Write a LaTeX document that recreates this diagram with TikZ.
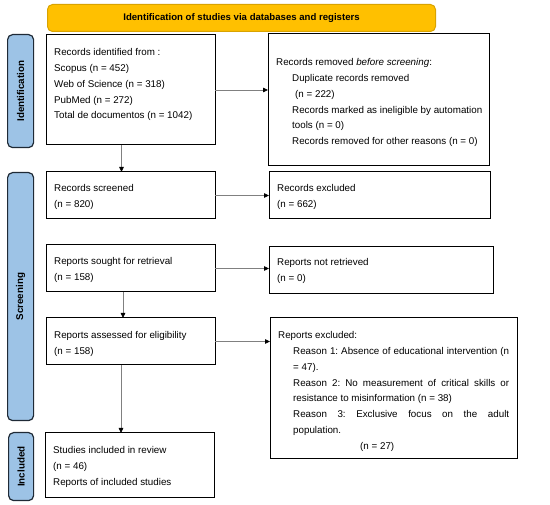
\documentclass[tikz,border=0pt]{standalone}
\usepackage{fontspec}
\setmainfont{Liberation Sans}
\usetikzlibrary{arrows.meta}
\definecolor{bannerfill}{HTML}{FFC000}
\definecolor{bannerdraw}{HTML}{D9A300}
\definecolor{sideblue}{HTML}{9DC3E6}
\definecolor{sidedraw}{HTML}{1F2A36}
\definecolor{arrgray}{HTML}{808080}
\frenchspacing
\begin{document}
\begin{tikzpicture}[x=1pt,y=-1pt,
  box/.style={draw=black,line width=1pt,rectangle,anchor=north west,inner sep=0pt,outer sep=0pt},
  txt/.style={anchor=north west,inner sep=0pt,align=left,font=\fontsize{9.8}{15.8}\selectfont},
  side/.style={draw=sidedraw,fill=sideblue,rounded corners=5pt,line width=1.2pt,anchor=north west,inner sep=0pt},
  sidetxt/.style={rotate=90,font=\fontsize{9.8}{12}\selectfont\bfseries,inner sep=0pt},
  arr/.style={draw=arrgray,line width=0.8pt,-{Triangle[length=5pt,width=4.5pt,color=black]}}]
\useasboundingbox (0,0) rectangle (550,505);
% banner
\node[draw=bannerdraw,fill=bannerfill,rounded corners=5pt,line width=1pt,anchor=north west,inner sep=0pt,
  minimum width=388pt,minimum height=27pt,font=\fontsize{9.6}{12}\selectfont\bfseries] (banner) at (47,4)
  {Identification of studies via databases and registers};
% side labels
\node[side,minimum width=26pt,minimum height=113pt] (s1) at (7,34) {};
\node[sidetxt] (s1t) at (s1.center) {Identification};
\node[side,minimum width=26pt,minimum height=248pt] (s2) at (7,172) {};
\node[sidetxt] (s2t) at (s2.center) {Screening};
\node[side,minimum width=25pt,minimum height=68pt] (s3) at (8,432) {};
\node[sidetxt] (s3t) at (s3.center) {Included};
% boxes
\node[box,minimum width=169pt,minimum height=110pt] (b1) at (46,35) {};
\node[box,minimum width=221pt,minimum height=132pt] (b2) at (268,34) {};
\node[box,minimum width=169pt,minimum height=47pt] (b3) at (46,172) {};
\node[box,minimum width=221pt,minimum height=47pt] (b4) at (269,172) {};
\node[box,minimum width=169pt,minimum height=47pt] (b5) at (46,245) {};
\node[box,minimum width=224pt,minimum height=47pt] (b6) at (269,247) {};
\node[box,minimum width=169pt,minimum height=47pt] (b7) at (46,318) {};
\node[box,minimum width=247pt,minimum height=141pt] (b8) at (270,318) {};
\node[box,minimum width=169pt,minimum height=65pt] (b9) at (45,433) {};
% texts
\node[txt] (t1) at (54,44.4) {\strut Records identified from :\\Scopus (n = 452)\\Web of Science (n = 318)\\PubMed (n = 272)\\Total de documentos (n = 1042)};
\node[txt] (t2) at (276,54.4) {\strut Records removed \textit{before screening}:\\
  \hspace*{16pt}Duplicate records removed\\
  \hspace*{19pt}(n = 222)\\
  \hspace*{16pt}Records marked as ineligible by automation\\
  \hspace*{16pt}tools (n = 0)\\
  \hspace*{16pt}Records removed for other reasons (n = 0)};
\node[txt] (t3) at (54,180.4) {\strut Records screened\\(n = 820)};
\node[txt] (t4) at (277,180.4) {\strut Records excluded\\(n = 662)};
\node[txt] (t5) at (54,253.4) {\strut Reports sought for retrieval\\(n = 158)};
\node[txt] (t6) at (277,254.4) {\strut Reports not retrieved\\(n = 0)};
\node[txt] (t7) at (54,327.4) {\strut Reports assessed for eligibility\\(n = 158)};
\node[txt] (t8) at (278,327.4) {\strut Reports excluded:\\
  \hspace*{15pt}\makebox[216pt][s]{Reason 1: Absence of educational intervention (n}\\
  \hspace*{15pt}= 47).\\
  \hspace*{15pt}\makebox[216pt][s]{Reason 2: No measurement of critical skills or}\\
  \hspace*{15pt}resistance to misinformation (n = 38)\\
  \hspace*{15pt}\makebox[216pt][s]{Reason 3: Exclusive focus on the adult}\\
  \hspace*{15pt}population.\\
  \hspace*{82pt}(n = 27)};
\node[txt] (t9) at (53,442.4) {\strut Studies included in review\\(n = 46)\\Reports of included studies};
% arrows
\draw[arr] (b1.east) -- (b2.west |- b1.east);
\draw[arr] (b3.east) -- (b4.west |- b3.east);
\draw[arr] (b5.east) -- (b6.west |- b5.east);
\draw[arr] (b7.east) -- (b8.west |- b7.east);
\draw[arr] ([xshift=-9pt]b1.south) -- ([xshift=-9pt]b1.south |- b3.north);
\draw[arr] ([xshift=-7.5pt]b5.south) -- ([xshift=-7.5pt]b5.south |- b7.north);
\draw[arr] ([xshift=-9.5pt]b7.south) -- ([xshift=-9.5pt]b7.south |- b9.north);
\end{tikzpicture}
\end{document}
